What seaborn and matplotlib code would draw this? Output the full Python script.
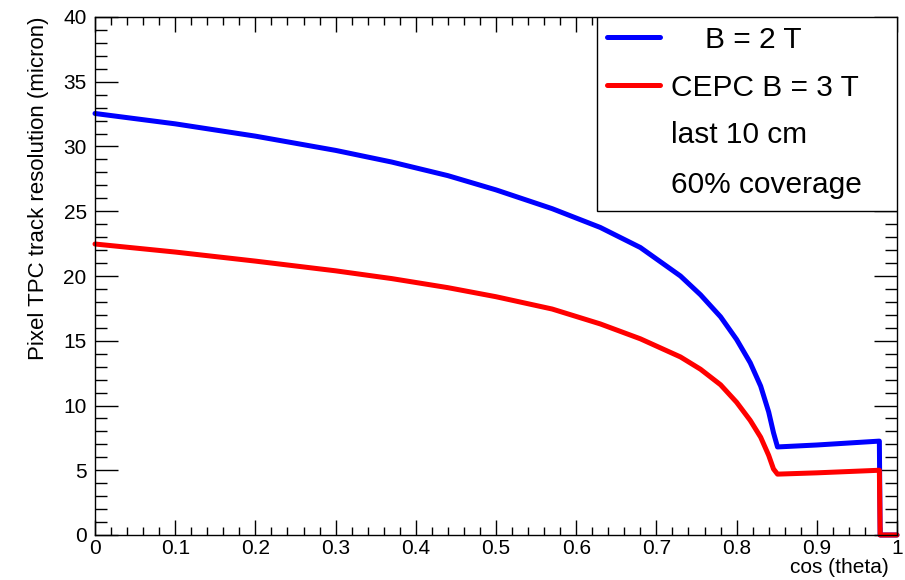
import pandas as pd
import matplotlib.pyplot as plt
import seaborn as sns
from matplotlib.patches import Rectangle
from matplotlib.ticker import MultipleLocator

# values
cos_theta = [0.0, 0.1, 0.2, 0.3, 0.37, 0.44, 0.5, 0.57, 0.63, 0.68, 0.73,
             0.755, 0.78, 0.8, 0.817, 0.83, 0.84, 0.846, 0.851, 0.9, 0.978, 0.979, 1.0]
res_2T = [32.55, 31.75, 30.8, 29.7, 28.8, 27.75, 26.65, 25.2, 23.75, 22.2, 20.0,
          18.55, 16.85, 15.1, 13.3, 11.5, 9.5, 7.9, 6.8, 6.95, 7.25, 0.0, 0.0]
res_3T = [22.47, 21.85, 21.15, 20.4, 19.8, 19.1, 18.4, 17.45, 16.3, 15.15, 13.75,
          12.8, 11.6, 10.25, 8.85, 7.55, 6.15, 5.1, 4.7, 4.8, 5.0, 0.0, 0.0]

legend_labels = ["B = 2 T", "CEPC B = 3 T", "last 10 cm", "60% coverage"]
line_colors = ["#0000ff", "#ff0000"]

df = pd.DataFrame({"cos": cos_theta * 2,
                   "res": res_2T + res_3T,
                   "field": [legend_labels[0]] * len(cos_theta) + [legend_labels[1]] * len(cos_theta)})

sns.set_style("ticks")
plt.rcParams['font.family'] = ['Liberation Sans', 'DejaVu Sans']
plt.rcParams.update({"text.color": "black", "axes.labelcolor": "black",
                     "xtick.color": "black", "ytick.color": "black"})

fig = plt.figure(figsize=(9.05, 5.8), dpi=100)
ax = fig.add_axes([95 / 905, 45 / 580, 802 / 905, 518 / 580])

sns.lineplot(data=df, x="cos", y="res", hue="field", palette=line_colors,
             estimator=None, sort=False, linewidth=3.6, legend=False, ax=ax,
             clip_on=False, solid_joinstyle="round", solid_capstyle="round")

ax.set_xlim(0, 1)
ax.set_ylim(0, 40)
ax.xaxis.set_major_locator(MultipleLocator(0.1))
ax.xaxis.set_minor_locator(MultipleLocator(0.02))
ax.yaxis.set_major_locator(MultipleLocator(5))
ax.yaxis.set_minor_locator(MultipleLocator(1))
ax.set_xticklabels([f"{v:g}" for v in ax.get_xticks()])
ax.tick_params(axis="both", which="both", direction="in", top=True, right=True,
               color="black", labelcolor="black", labelsize=15, width=1)
ax.tick_params(axis="y", which="major", length=16.5, pad=6)
ax.tick_params(axis="y", which="minor", length=8.5)
ax.tick_params(axis="x", which="major", length=11, pad=3)
ax.tick_params(axis="x", which="minor", length=5.8)
for s in ax.spines.values():
    s.set_color("black")
    s.set_linewidth(1)

ax.set_xlabel("cos (theta)", fontsize=15, ha="right", va="top")
ax.xaxis.set_label_coords(0.99, -0.044)
ax.set_ylabel("Pixel TPC track resolution (micron)", fontsize=16, loc="top", labelpad=10)

# ROOT-like legend box in the top right corner
ax.add_patch(Rectangle((0.6256, 0.626), 0.3744, 0.374, transform=ax.transAxes,
                       facecolor="white", edgecolor="black", linewidth=1, zorder=5))
rows = [0.94, 0.847, 0.757, 0.66]
for i, lab in enumerate(legend_labels):
    if i < 2:
        ax.plot([0.638, 0.7045], [rows[i] + 0.022, rows[i] + 0.022], transform=ax.transAxes,
                color=line_colors[i], linewidth=3.6, zorder=6, clip_on=False)
    x = 0.7606 if i == 0 else 0.718
    ax.text(x, rows[i], lab, transform=ax.transAxes, fontsize=21.5,
            va="baseline", ha="left", zorder=7)

fig.savefig("out.png", dpi=100)
